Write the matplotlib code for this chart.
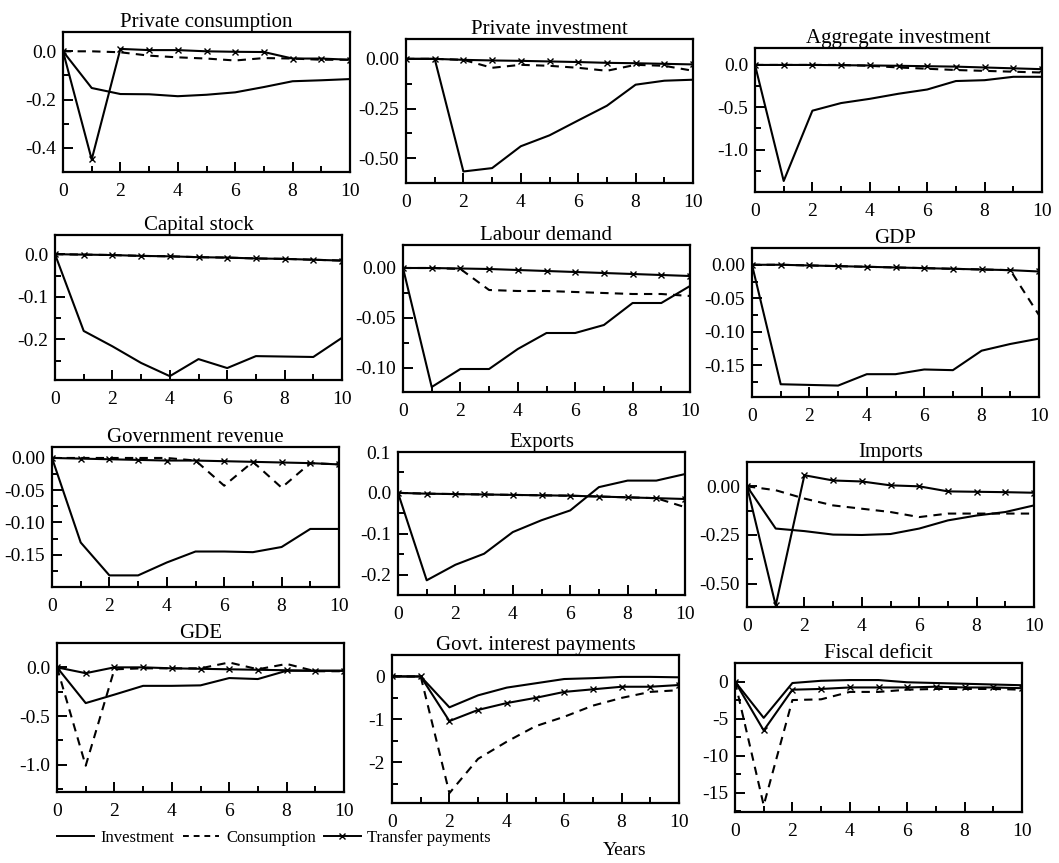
import matplotlib
matplotlib.use('Agg')
from matplotlib import pyplot as plt
from matplotlib.lines import Line2D

plt.rcParams['font.family'] = ['Liberation Serif', 'DejaVu Serif']

years = [0, 1, 2, 3, 4, 5, 6, 7, 8, 9, 10]

titles = ['Private consumption', 'Private investment', 'Aggregate investment',
          'Capital stock', 'Labour demand', 'GDP',
          'Government revenue', 'Exports', 'Imports',
          'GDE', 'Govt. interest payments', 'Fiscal deficit']

# solid line: investment shock
investment = [
    [0, -0.152, -0.177, -0.178, -0.186, -0.18, -0.17, -0.148, -0.124, -0.12, -0.115],
    [0, 0, -0.567, -0.55, -0.44, -0.385, -0.31, -0.236, -0.13, -0.11, -0.105],
    [0, -1.37, -0.54, -0.45, -0.40, -0.34, -0.29, -0.19, -0.18, -0.14, -0.14],
    [0, -0.18, -0.216, -0.255, -0.286, -0.246, -0.267, -0.239, -0.24, -0.241, -0.196],
    [0, -0.119, -0.101, -0.101, -0.081, -0.065, -0.065, -0.057, -0.035, -0.035, -0.018],
    [0, -0.178, -0.179, -0.18, -0.163, -0.163, -0.156, -0.157, -0.128, -0.118, -0.11],
    [0, -0.131, -0.182, -0.182, -0.162, -0.145, -0.145, -0.146, -0.138, -0.11, -0.11],
    [0, -0.214, -0.176, -0.149, -0.096, -0.067, -0.043, 0.014, 0.03, 0.03, 0.046],
    [0, -0.217, -0.23, -0.248, -0.25, -0.245, -0.217, -0.175, -0.15, -0.132, -0.098],
    [0, -0.367, -0.28, -0.19, -0.19, -0.185, -0.11, -0.12, -0.035, -0.035, -0.035],
    [0, 0, -0.72, -0.44, -0.26, -0.16, -0.06, -0.04, -0.01, -0.01, -0.02],
    [0, -4.9, -0.2, 0.1, 0.2, 0.2, -0.1, -0.2, -0.3, -0.4, -0.5],
]

# dashed line: consumption shock
consumption = [
    [0, 0, -0.004, -0.018, -0.025, -0.03, -0.038, -0.028, -0.03, -0.035, -0.035],
    [0, 0, -0.005, -0.045, -0.03, -0.035, -0.045, -0.06, -0.03, -0.035, -0.06],
    [0, 0, 0, 0, -0.01, -0.03, -0.045, -0.06, -0.07, -0.08, -0.09],
    [0, -0.001, -0.002, -0.004, -0.005, -0.007, -0.008, -0.01, -0.011, -0.013, -0.015],
    [0, 0, -0.001, -0.022, -0.023, -0.023, -0.024, -0.025, -0.026, -0.026, -0.028],
    [0, 0, -0.001, -0.002, -0.003, -0.004, -0.005, -0.006, -0.007, -0.008, -0.075],
    [0, 0, 0, 0, 0, -0.004, -0.043, -0.006, -0.046, -0.008, -0.01],
    [0, -0.002, -0.003, -0.004, -0.005, -0.006, -0.007, -0.009, -0.011, -0.013, -0.035],
    [0, -0.02, -0.063, -0.098, -0.115, -0.132, -0.158, -0.14, -0.14, -0.14, -0.14],
    [0, -1.01, -0.02, -0.01, -0.01, -0.01, 0.05, -0.02, 0.035, -0.04, -0.04],
    [0, 0, -2.72, -1.92, -1.52, -1.16, -0.94, -0.68, -0.5, -0.36, -0.32],
    [0, -16.7, -2.5, -2.4, -1.4, -1.4, -1.1, -1.0, -1.0, -1.0, -1.1],
]

# solid line with crosses: transfer payments shock
transfers = [
    [0, -0.448, 0.01, 0.005, 0.005, 0.0, -0.002, -0.003, -0.03, -0.03, -0.035],
    [0, 0, -0.005, -0.008, -0.01, -0.013, -0.016, -0.02, -0.022, -0.025, -0.028],
    [0, 0, 0, -0.003, -0.006, -0.01, -0.015, -0.02, -0.03, -0.04, -0.05],
    [0, -0.001, -0.002, -0.004, -0.005, -0.007, -0.008, -0.01, -0.011, -0.013, -0.015],
    [0, 0, -0.0005, -0.001, -0.002, -0.003, -0.004, -0.005, -0.006, -0.007, -0.008],
    [0, 0, -0.001, -0.002, -0.003, -0.004, -0.005, -0.006, -0.007, -0.008, -0.01],
    [0, -0.001, -0.002, -0.003, -0.004, -0.004, -0.005, -0.006, -0.007, -0.008, -0.01],
    [0, -0.002, -0.003, -0.004, -0.005, -0.006, -0.007, -0.009, -0.011, -0.013, -0.015],
    [0, -0.612, 0.057, 0.03, 0.025, 0.005, 0.0, -0.026, -0.028, -0.03, -0.033],
    [0, -0.06, 0.0, 0.0, -0.01, -0.015, -0.02, -0.025, -0.03, -0.035, -0.035],
    [0, 0, -1.04, -0.78, -0.62, -0.5, -0.36, -0.3, -0.24, -0.24, -0.2],
    [0, -6.6, -1.1, -1.0, -0.8, -0.8, -0.8, -0.7, -0.8, -0.8, -0.9],
]

ylims = [(-0.5, 0.08), (-0.625, 0.1), (-1.5, 0.2),
         (-0.295, 0.045), (-0.124, 0.023), (-0.197, 0.025),
         (-0.2, 0.017), (-0.25, 0.1), (-0.62, 0.125),
         (-1.28, 0.25), (-2.95, 0.5), (-17.6, 2.5)]

yticks = [[0.0, -0.2, -0.4], [0.0, -0.25, -0.5], [0.0, -0.5, -1.0],
          [0.0, -0.1, -0.2], [0.0, -0.05, -0.1], [0.0, -0.05, -0.1, -0.15],
          [0.0, -0.05, -0.1, -0.15], [0.1, 0.0, -0.1, -0.2], [0.0, -0.25, -0.5],
          [0.0, -0.5, -1.0], [0, -1, -2], [0, -5, -10, -15]]

ylabels = [['0.0', '-0.2', '-0.4'], ['0.00', '-0.25', '-0.50'], ['0.0', '-0.5', '-1.0'],
           ['0.0', '-0.1', '-0.2'], ['0.00', '-0.05', '-0.10'], ['0.00', '-0.05', '-0.10', '-0.15'],
           ['0.00', '-0.05', '-0.10', '-0.15'], ['0.1', '0.0', '-0.1', '-0.2'], ['0.00', '-0.25', '-0.50'],
           ['0.0', '-0.5', '-1.0'], ['0', '-1', '-2'], ['0', '-5', '-10', '-15']]

W, H = 1059, 863
fig = plt.figure(figsize=(W / 100, H / 100), dpi=100)

# panel boxes in pixels (left, top, bottom) - the scan is slightly skewed
boxes = [(63, 32, 172), (406, 39, 183), (755, 48, 192),
         (55, 235, 380), (403, 245, 392), (752, 248, 397),
         (52, 447, 587), (398, 452, 595), (747, 462, 607),
         (57, 643, 792), (392, 655, 803), (735, 663, 812)]
aw = 287

for i in range(12):
    left, top, bottom = boxes[i]
    ax = fig.add_axes([left / W, 1 - bottom / H, aw / W, (bottom - top) / H])
    ax.plot(years, investment[i], color='black', lw=1.5)
    ax.plot(years, consumption[i], color='black', lw=1.5, ls=(0, (4, 3)))
    ax.plot(years, transfers[i], color='black', lw=1.5, marker='x', ms=4, mew=1)
    ax.set_xlim(0, 10)
    ax.set_ylim(*ylims[i])
    ax.set_xticks([0, 2, 4, 6, 8, 10])
    ax.set_xticks([1, 3, 5, 7, 9], minor=True)
    ax.set_yticks(yticks[i])
    ax.set_yticklabels(ylabels[i])
    step = yticks[i][0] - yticks[i][1]
    minors = [t - step / 2 for t in yticks[i]]
    minors = [m for m in minors if ylims[i][0] < m < ylims[i][1]]
    ax.set_yticks(minors, minor=True)
    ax.tick_params(which='both', direction='in', top=False, right=False,
                   labelsize=14, width=1.4)
    ax.tick_params(axis='x', pad=8)
    ax.tick_params(axis='y', pad=5)
    ax.tick_params(which='major', length=7)
    ax.tick_params(which='minor', length=4)
    for s in ax.spines.values():
        s.set_linewidth(1.6)
    ax.set_title(titles[i], fontsize=15, pad=3)

handles = [Line2D([], [], color='black', lw=1.4),
           Line2D([], [], color='black', lw=1.4, ls=(0, (3, 2.5))),
           Line2D([], [], color='black', lw=1.4, marker='x', ms=4)]
fig.legend(handles, ['Investment', 'Consumption', 'Transfer payments'],
           loc='center left', bbox_to_anchor=(42 / W, 1 - 838 / H), ncol=3,
           frameon=False, fontsize=12, handlelength=2.2, columnspacing=0.5,
           handletextpad=0.4)
fig.text(625 / W, 1 - 850 / H, 'Years', fontsize=14, ha='center', va='center')

fig.savefig('out.png', dpi=100)
